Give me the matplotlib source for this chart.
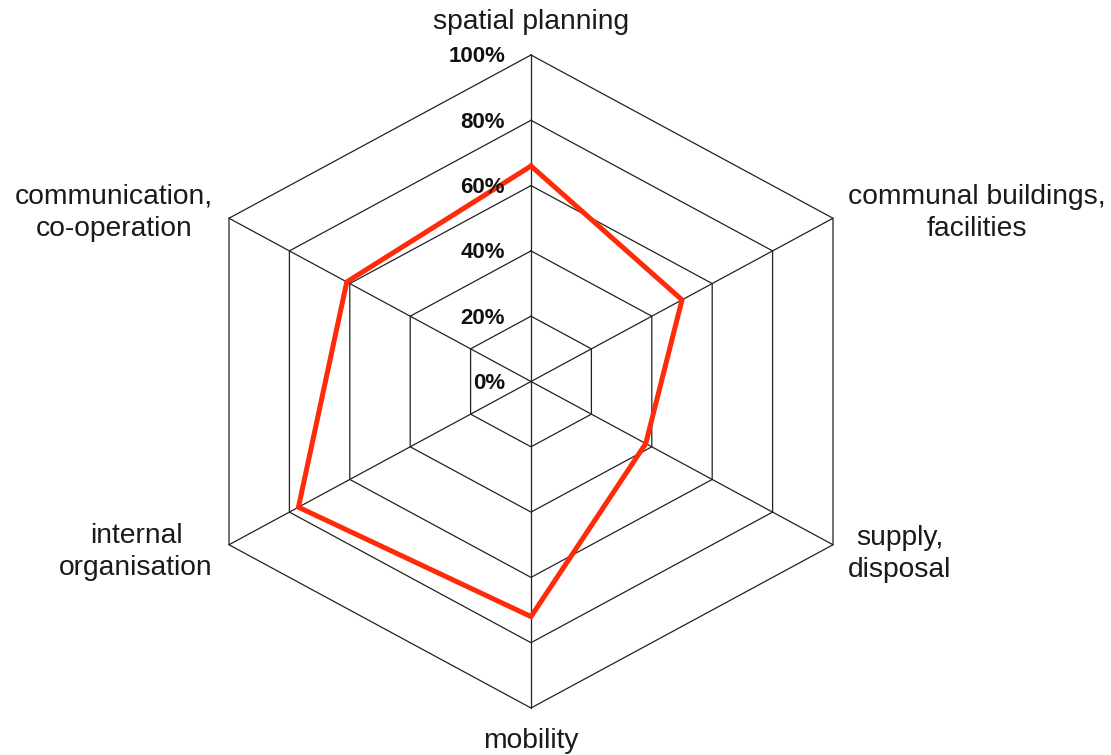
import numpy as np
import matplotlib
matplotlib.use("Agg")
import matplotlib.pyplot as plt

categories = ["spatial planning", "communal buildings,\nfacilities", "supply,\ndisposal",
              "mobility", "internal\norganisation", "communication,\nco-operation"]
values = [66, 50, 38, 72, 77, 61]
levels = [20, 40, 60, 80, 100]
tick_labels = ["0%", "20%", "40%", "60%", "80%", "100%"]

plt.rcParams['font.family'] = ['Liberation Sans', 'DejaVu Sans']

W, H = 1111, 755
fig = plt.figure(figsize=(W / 100, H / 100), dpi=100)
ax = fig.add_axes([0, 0, 1, 1])
ax.set_axis_off()

cx, cy = 531, 381.5
sx = 302 / (100 * np.cos(np.pi / 6))
sy = 326.5 / 100
ax.set_xlim(-cx / sx, (W - cx) / sx)
ax.set_ylim((cy - H) / sy, cy / sy)

n = len(categories)
ang = np.pi / 2 - np.arange(n) * 2 * np.pi / n
ux, uy = np.cos(ang), np.sin(ang)

# grid hexagons
for lv in levels:
    xs = np.append(ux * lv, ux[0] * lv)
    ys = np.append(uy * lv, uy[0] * lv)
    ax.plot(xs, ys, color='#222222', lw=0.9, zorder=1)
# spokes
for i in range(n):
    ax.plot([0, ux[i] * 100], [0, uy[i] * 100], color='#222222', lw=0.9, zorder=1)

# data
v = np.array(values, dtype=float)
ax.plot(np.append(ux * v, ux[0] * v[0]), np.append(uy * v, uy[0] * v[0]),
        color='#ff2a0a', lw=3.6, solid_joinstyle='miter', zorder=3)

# tick labels
for k, t in enumerate(tick_labels):
    ax.text(-26 / sx, k * 20 - 0.6, t, ha='right', va='center', fontsize=16,
            fontweight='bold', color='#111111', zorder=4)

# category labels (pixel positions)
label_pos = [(531, 22), (977, 213), (900, 554), (531, 741), (136, 552), (114, 213)]
for lab, (px, py) in zip(categories, label_pos):
    fig.text(px / W, 1 - py / H, lab, ha='center', va='center', fontsize=20.3,
             color='#1a1a1a', linespacing=1.32)

fig.savefig("out.png", dpi=100)
